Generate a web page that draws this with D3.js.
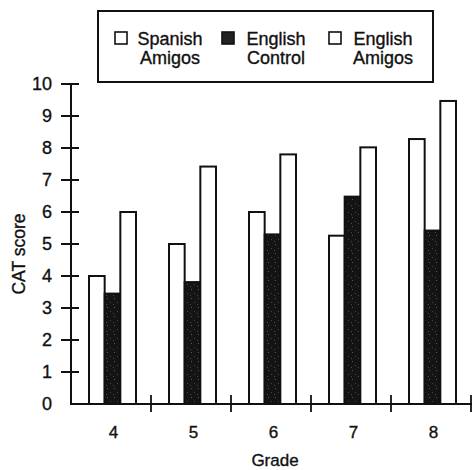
<!DOCTYPE html>
<html><head><meta charset="utf-8">
<script src="https://cdn.jsdelivr.net/npm/d3@7"></script>
<style>html,body{margin:0;padding:0;background:#fff;} svg{display:block;} text{stroke:#111;stroke-width:0.35px;}</style>
</head><body>
<script>
const grades = ["4","5","6","7","8"];
const seriesNames = ["Spanish Amigos","English Control","English Amigos"];
const legendLines = [["Spanish","Amigos"],["English","Control"],["English","Amigos"]];
const spanishAmigos = [4.0, 5.0, 6.0, 5.26, 8.28];
const englishControl = [3.45, 3.81, 5.3, 6.48, 5.42];
const englishAmigos = [6.0, 7.42, 7.8, 8.02, 9.47];
const yTicks = [0,1,2,3,4,5,6,7,8,9,10];
const seriesValues = [spanishAmigos, englishControl, englishAmigos];
const seriesFill = ["#fff", "#161616", "#fff"];

const W = 473, H = 470;
const font = "'Liberation Sans', Arial, Helvetica, sans-serif";
const svg = d3.select("body").append("svg").attr("width", W).attr("height", H)
  .style("font-family", font);

const defs = svg.append("defs");
const pat = defs.append("pattern").attr("id","speck").attr("patternUnits","userSpaceOnUse")
  .attr("width",7).attr("height",9);
pat.append("rect").attr("width",7).attr("height",9).attr("fill","#141414");
pat.append("rect").attr("x",2).attr("y",1).attr("width",1).attr("height",1).attr("fill","#555");
pat.append("rect").attr("x",5).attr("y",5).attr("width",1).attr("height",1).attr("fill","#444");
pat.append("rect").attr("x",1).attr("y",7).attr("width",1).attr("height",1).attr("fill","#4a4a4a");
seriesFill[1] = "url(#speck)";

const x0 = 71, x1 = 471, yTop = 84, yBot = 404;
const y = d3.scaleLinear().domain([0,10]).range([yBot, yTop]);
const x = d3.scaleBand().domain(grades).range([x0, x1]).padding(0);
const xs = d3.scaleBand().domain(seriesNames).range([18, 65]).padding(0);

// bars
grades.forEach((g, gi) => {
  seriesNames.forEach((s, si) => {
    const v = seriesValues[si][gi];
    svg.append("rect")
      .attr("x", x(g) + xs(s))
      .attr("y", y(v))
      .attr("width", xs.bandwidth())
      .attr("height", y(0) - y(v))
      .attr("fill", seriesFill[si])
      .attr("stroke", "#111").attr("stroke-width", 2);
  });
});

// y axis
svg.append("line").attr("x1", x0).attr("x2", x0).attr("y1", y(10)).attr("y2", y(0))
  .attr("stroke", "#111").attr("stroke-width", 2);
yTicks.forEach(t => {
  if (t > 0) {
    svg.append("line").attr("x1", 61).attr("x2", 79).attr("y1", y(t)).attr("y2", y(t))
      .attr("stroke", "#111").attr("stroke-width", 2);
  }
  svg.append("text").attr("x", 52).attr("y", y(t)).attr("dy", "0.36em")
    .attr("text-anchor", "end").attr("font-size", 18).attr("fill", "#111").text(t);
});

// x axis
svg.append("line").attr("x1", x0 - 1).attr("x2", x1 + 1).attr("y1", y(0)).attr("y2", y(0))
  .attr("stroke", "#111").attr("stroke-width", 2.2);
grades.forEach(g => {
  const tx = x(g) + x.bandwidth();
  svg.append("line").attr("x1", tx).attr("x2", tx).attr("y1", 395).attr("y2", 412)
    .attr("stroke", "#111").attr("stroke-width", 1.8);
  svg.append("text").attr("x", x(g) + xs(seriesNames[1]) + xs.bandwidth()/2 + 1)
    .attr("y", 438).attr("text-anchor", "middle").attr("font-size", 17).attr("fill", "#111").text(g);
});

// axis titles
svg.append("text").attr("x", 275).attr("y", 466).attr("text-anchor", "middle")
  .attr("font-size", 17).attr("fill", "#111").text("Grade");
svg.append("text").attr("transform", "translate(25,254) rotate(-90)")
  .attr("text-anchor", "middle").attr("font-size", 17.5).attr("fill", "#111").text("CAT score");

// legend
svg.append("rect").attr("x", 98).attr("y", 11).attr("width", 335).attr("height", 71)
  .attr("fill", "none").attr("stroke", "#111").attr("stroke-width", 2);
const legX = [115, 222, 329];
const legTextX = [170, 276, 383];
seriesNames.forEach((s, i) => {
  svg.append("rect").attr("x", legX[i]).attr("y", 32).attr("width", 12).attr("height", 12)
    .attr("fill", i === 1 ? "#222" : "#fff").attr("stroke", "#111").attr("stroke-width", 1.6);
  legendLines[i].forEach((ln, li) => {
    svg.append("text").attr("x", legTextX[i]).attr("y", 45 + li * 19)
      .attr("text-anchor", "middle").attr("font-size", 18).attr("fill", "#111").text(ln);
  });
});
</script>
</body></html>
